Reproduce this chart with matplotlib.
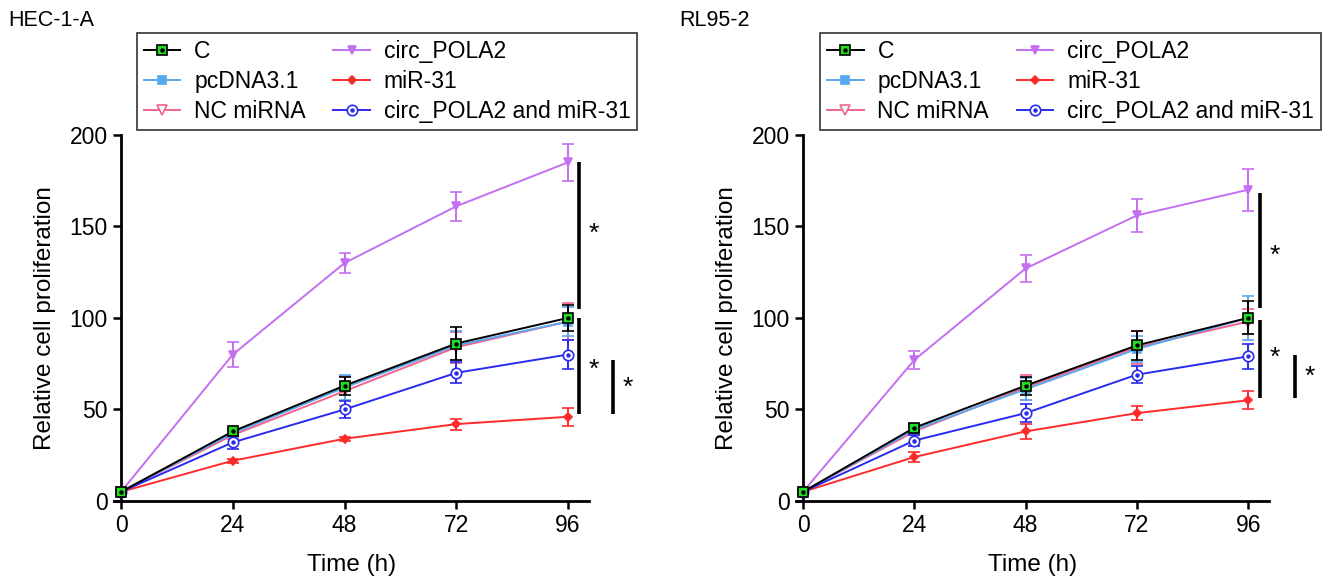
import numpy as np
import matplotlib as mpl
mpl.use('Agg')
import matplotlib.pyplot as plt
from matplotlib.lines import Line2D
from matplotlib.legend_handler import HandlerTuple

plt.rcParams['font.family'] = ['Liberation Sans', 'DejaVu Sans']

time_h = [0, 24, 48, 72, 96]
groups = ['C', 'pcDNA3.1', 'NC miRNA', 'circ_POLA2', 'miR-31', 'circ_POLA2 and miR-31']

# HEC-1-A
hec_c = [5, 38, 63, 86, 100]
hec_c_err = [1, 1.5, 4.9, 9, 7]
hec_pc = [5, 37, 62, 85, 98]
hec_pc_err = [1, 2, 7, 8, 8]
hec_nc = [5, 36, 60, 84, 98]
hec_nc_err = [1, 2, 8, 8.5, 10]
hec_circ = [5, 80, 130, 161, 185]
hec_circ_err = [1, 7, 5.5, 8, 10]
hec_mir = [5, 22, 34, 42, 46]
hec_mir_err = [1, 1, 1, 3, 5]
hec_both = [5, 32, 50, 70, 80]
hec_both_err = [1, 3.5, 4.6, 5.7, 8]

# RL95-2
rl_c = [5, 40, 63, 85, 100]
rl_c_err = [1, 2, 4.9, 8, 9]
rl_pc = [5, 39, 61, 83, 100]
rl_pc_err = [1, 2, 6, 7, 12]
rl_nc = [5, 38, 62, 84, 98]
rl_nc_err = [1, 2, 7, 9, 7]
rl_circ = [5, 77, 127, 156, 170]
rl_circ_err = [1, 5, 7.5, 9, 11.5]
rl_mir = [5, 24, 38, 48, 55]
rl_mir_err = [1, 2.5, 4, 3.7, 5]
rl_both = [5, 33, 48, 69, 79]
rl_both_err = [1, 3, 4.8, 4.8, 7]

# significance brackets: (x, y_low, y_high, star_y)
hec_sig = [(98.4, 105, 185, 146), (98.4, 47.5, 100, 71.6), (105.6, 47.5, 77, 62)]
rl_sig = [(98.5, 105.5, 168, 134), (98.5, 56, 99, 78), (106, 56, 80, 68)]

styles = {
    'circ_POLA2': dict(color='#c46ef0', marker='v', mfc='#c46ef0', mec='#c46ef0', ms=6),
    'miR-31': dict(color='#ff2a2a', marker='D', mfc='#ff2a2a', mec='#ff2a2a', ms=4.5),
    'NC miRNA': dict(color='#f0648c', marker='v', mfc='white', mec='#f0648c', ms=6.5),
    'pcDNA3.1': dict(color='#58a8f0', marker='s', mfc='#58a8f0', mec='#58a8f0', ms=5.5),
    'circ_POLA2 and miR-31': dict(color='#2a2af0', marker='o', mfc='white', mec='#2a2af0', ms=7.5),
    'C': dict(color='black', marker='s', mfc='#22dd22', mec='black', ms=7.5),
}
dots = {'C': 'black', 'circ_POLA2 and miR-31': '#2a2af0'}


def panel(ax, data, sig, leg_x):
    order = ['circ_POLA2', 'miR-31', 'NC miRNA', 'pcDNA3.1', 'circ_POLA2 and miR-31', 'C']
    for z, name in enumerate(order):
        y, e = data[name]
        st = styles[name]
        ax.errorbar(time_h, y, yerr=e, color=st['color'], marker=st['marker'],
                    mfc=st['mfc'], mec=st['mec'], ms=st['ms'], mew=1.2, lw=1.4,
                    elinewidth=1.4, capsize=4.5, capthick=1.4, clip_on=False, zorder=3 + z)
        if name in dots:
            ax.plot(time_h, y, ls='none', marker='o', ms=2.2, color=dots[name],
                    clip_on=False, zorder=3.5 + z)
    for x, y0, y1, ys in sig:
        ax.plot([x, x], [y0, y1], color='black', lw=2.6, clip_on=False,
                solid_capstyle='butt')
        ax.text(x + 3.2, ys, '*', fontsize=19, ha='center', va='center')

    ax.set_xlim(-1.5, 100.5)
    ax.set_ylim(0, 200)
    ax.spines['left'].set_position(('data', 0))
    ax.spines['top'].set_visible(False)
    ax.spines['right'].set_visible(False)
    for s in ['left', 'bottom']:
        ax.spines[s].set_linewidth(2)
    ax.set_xticks(time_h)
    ax.set_yticks([0, 50, 100, 150, 200])
    ax.tick_params(direction='out', length=5.5, width=1.8, labelsize=16.5, pad=4)
    ax.set_xlabel('Time (h)', fontsize=17.5, labelpad=12)
    ax.set_ylabel('Relative cell proliferation', fontsize=17.5, labelpad=10)

    handles = []
    for name in groups:
        st = styles[name]
        h = Line2D([], [], color=st['color'], marker=st['marker'], mfc=st['mfc'],
                   mec=st['mec'], ms=st['ms'], mew=1.2, lw=1.4)
        if name in dots:
            h = (h, Line2D([], [], ls='none', marker='o', ms=2.2, color=dots[name]))
        handles.append(h)
    leg = ax.legend(handles, groups, ncol=2, loc='upper left',
                    bbox_to_anchor=(leg_x, 1.279), fontsize=16.5, frameon=True,
                    fancybox=False, edgecolor='black', handlelength=1.6,
                    handletextpad=0.6, columnspacing=1.2, labelspacing=0.32,
                    borderpad=0.3, borderaxespad=0,
                    handler_map={tuple: HandlerTuple(ndivide=1)})
    leg.get_frame().set_linewidth(1.2)


def main():
    fig = plt.figure(figsize=(13.23, 5.83), dpi=100)
    ax1 = fig.add_axes([0.0862, 0.1407, 0.359, 0.628])
    ax2 = fig.add_axes([0.6017, 0.1407, 0.3575, 0.628])

    panel(ax1, {'C': (hec_c, hec_c_err), 'pcDNA3.1': (hec_pc, hec_pc_err),
                'NC miRNA': (hec_nc, hec_nc_err), 'circ_POLA2': (hec_circ, hec_circ_err),
                'miR-31': (hec_mir, hec_mir_err),
                'circ_POLA2 and miR-31': (hec_both, hec_both_err)}, hec_sig, 0.048)
    panel(ax2, {'C': (rl_c, rl_c_err), 'pcDNA3.1': (rl_pc, rl_pc_err),
                'NC miRNA': (rl_nc, rl_nc_err), 'circ_POLA2': (rl_circ, rl_circ_err),
                'miR-31': (rl_mir, rl_mir_err),
                'circ_POLA2 and miR-31': (rl_both, rl_both_err)}, rl_sig, 0.051)

    fig.text(8 / 1323, 1 - 20 / 583, 'HEC-1-A', fontsize=15.5, va='center', ha='left')
    fig.text(679 / 1323, 1 - 20 / 583, 'RL95-2', fontsize=15.5, va='center', ha='left')

    fig.savefig('out.png', dpi=100)


if __name__ == '__main__':
    main()
